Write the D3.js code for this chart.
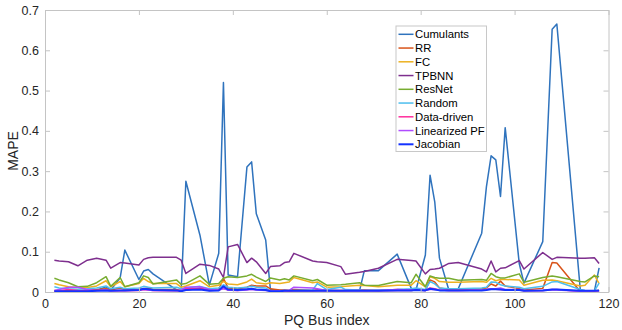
<!DOCTYPE html>
<html>
<head>
<meta charset="utf-8">
<script src="https://cdn.jsdelivr.net/npm/d3@7"></script>
<style>
  html, body { margin: 0; padding: 0; background: #fff; }
  svg { display: block; font-family: "Liberation Sans", Arial, Helvetica, sans-serif; }
</style>
</head>
<body>
<svg id="chart" width="622" height="330"></svg>
<script>
// PQ bus indices (x positions of every series)
const buses = [2,3,5,7,9,11,13,14,16,17,20,21,22,23,28,29,30,33,35,37,38,39,41,43,44,45,47,48,50,51,52,53,57,58,60,63,64,67,68,71,75,78,79,81,82,83,84,86,88,93,94,95,96,97,98,101,102,106,108,109,114,115,117,118];

const seriesNames = ["Cumulants","RR","FC","TPBNN","ResNet","Random","Data-driven","Linearized PF","Jacobian"];

const cumulants = [0.002,0.002,0.003,0.002,0.002,0.004,0.013,0.005,0.035,0.104,0.031,0.052,0.056,0.045,0.005,0.003,0.275,0.141,0.017,0.096,0.52,0.042,0.038,0.31,0.323,0.194,0.129,0.006,0.004,0.004,0.003,0.004,0.003,0.004,0.004,0.003,0.004,0.004,0.053,0.053,0.094,0.009,0.005,0.092,0.29,0.224,0.084,0.005,0.008,0.146,0.261,0.338,0.328,0.237,0.408,0.07,0.022,0.125,0.652,0.665,0.005,0.003,0.002,0.06];
const rr = [0.004,0.004,0.003,0.004,0.005,0.006,0.008,0.005,0.01,0.006,0.006,0.008,0.01,0.006,0.006,0.004,0.005,0.01,0.005,0.007,0.034,0.01,0.008,0.012,0.017,0.015,0.015,0.008,0.005,0.005,0.004,0.006,0.004,0.005,0.004,0.004,0.004,0.005,0.005,0.004,0.006,0.005,0.008,0.004,0.03,0.025,0.01,0.006,0.006,0.008,0.01,0.02,0.015,0.027,0.015,0.008,0.005,0.009,0.073,0.072,0.001,0.001,0.003,0.004];
const fc = [0.021,0.018,0.013,0.011,0.011,0.015,0.028,0.013,0.026,0.013,0.021,0.034,0.026,0.021,0.021,0.012,0.015,0.028,0.013,0.017,0.026,0.02,0.018,0.025,0.032,0.023,0.02,0.023,0.021,0.023,0.025,0.036,0.023,0.025,0.012,0.013,0.014,0.017,0.016,0.013,0.017,0.017,0.028,0.013,0.038,0.034,0.026,0.024,0.024,0.026,0.024,0.034,0.028,0.031,0.031,0.03,0.017,0.029,0.03,0.028,0.015,0.017,0.042,0.021];
const tpbnn = [0.079,0.077,0.075,0.065,0.079,0.084,0.079,0.059,0.073,0.072,0.067,0.081,0.085,0.086,0.086,0.079,0.046,0.069,0.066,0.057,0.036,0.112,0.118,0.073,0.084,0.075,0.046,0.063,0.065,0.073,0.075,0.096,0.077,0.075,0.073,0.063,0.044,0.049,0.051,0.059,0.081,0.078,0.077,0.045,0.056,0.057,0.059,0.071,0.073,0.057,0.05,0.077,0.05,0.059,0.06,0.078,0.057,0.098,0.081,0.086,0.084,0.084,0.085,0.071];
const resnet = [0.034,0.03,0.023,0.013,0.014,0.023,0.038,0.014,0.036,0.013,0.023,0.04,0.036,0.02,0.03,0.019,0.021,0.04,0.019,0.021,0.034,0.038,0.036,0.04,0.044,0.037,0.026,0.035,0.03,0.033,0.03,0.04,0.028,0.031,0.017,0.018,0.019,0.023,0.017,0.016,0.026,0.023,0.044,0.013,0.04,0.036,0.034,0.034,0.029,0.031,0.029,0.046,0.038,0.035,0.035,0.045,0.024,0.036,0.04,0.038,0.026,0.025,0.04,0.038];
const random = [0.013,0.01,0.008,0.007,0.008,0.01,0.015,0.008,0.012,0.008,0.01,0.014,0.012,0.01,0.012,0.008,0.01,0.014,0.008,0.01,0.018,0.012,0.01,0.012,0.014,0.012,0.01,0.003,0.003,0.004,0.003,0.004,0.005,0.021,0.006,0.012,0.006,0.005,0.004,0.005,0.006,0.008,0.01,0.006,0.026,0.02,0.01,0.008,0.008,0.01,0.012,0.025,0.024,0.018,0.015,0.012,0.008,0.014,0.025,0.026,0.006,0.004,0.003,0.022];
const dataDriven = [0.002,0.003,0.006,0.004,0.003,0.004,0.005,0.003,0.004,0.003,0.004,0.006,0.005,0.004,0.003,0.002,0.008,0.008,0.004,0.005,0.01,0.005,0.004,0.006,0.008,0.006,0.005,0.003,0.002,0.003,0.002,0.003,0.003,0.004,0.003,0.003,0.003,0.003,0.003,0.003,0.004,0.004,0.005,0.004,0.01,0.008,0.005,0.004,0.004,0.005,0.006,0.008,0.007,0.006,0.005,0.005,0.003,0.004,0.006,0.006,0.002,0.002,0.002,0.003];
const linearPF = [0.004,0.006,0.012,0.012,0.006,0.004,0.005,0.003,0.004,0.004,0.005,0.006,0.005,0.004,0.004,0.005,0.012,0.013,0.006,0.005,0.008,0.005,0.004,0.005,0.006,0.005,0.004,0.003,0.003,0.004,0.004,0.012,0.01,0.008,0.004,0.004,0.004,0.004,0.004,0.004,0.006,0.005,0.006,0.004,0.006,0.006,0.005,0.004,0.004,0.005,0.006,0.008,0.008,0.01,0.006,0.006,0.004,0.004,0.005,0.005,0.002,0.002,0.003,0.003];
const jacobian = [0.002,0.002,0.002,0.002,0.002,0.003,0.004,0.003,0.004,0.004,0.005,0.008,0.007,0.005,0.004,0.002,0.005,0.006,0.003,0.004,0.014,0.006,0.005,0.007,0.008,0.006,0.005,0.002,0.002,0.003,0.003,0.003,0.003,0.003,0.003,0.003,0.003,0.003,0.003,0.003,0.004,0.004,0.005,0.004,0.008,0.006,0.004,0.004,0.004,0.004,0.005,0.007,0.007,0.006,0.005,0.005,0.003,0.004,0.006,0.006,0.003,0.003,0.003,0.004];

const xTicks = [0,20,40,60,80,100,120];
const yTicks = [0,0.1,0.2,0.3,0.4,0.5,0.6,0.7];
const yTickLabels = ["0","0.1","0.2","0.3","0.4","0.5","0.6","0.7"];

const seriesValues = [cumulants, rr, fc, tpbnn, resnet, random, dataDriven, linearPF, jacobian];
const colors = ["#2f73bd","#d95319","#edb120","#7e2f8e","#77ac30","#4dbeee","#ff2d9c","#b04cff","#1432ff"];
const widths = [1.5,1.5,1.5,1.5,1.5,1.5,1.5,1.5,2];

const svg = d3.select("#chart");
const plotLeft = 45, plotRight = 608.5, plotTop = 10, plotBottom = 292;
const axisColor = "#c4c4c4", textColor = "#262626";

const x = d3.scaleLinear().domain([0,120]).range([plotLeft,plotRight]);
const y = d3.scaleLinear().domain([0,0.7]).range([plotBottom,plotTop]);

svg.append("rect").attr("width",622).attr("height",330).attr("fill","#fff");

// series lines
const line = d3.line().x(d => x(d[0])).y(d => y(d[1]));
const plot = svg.append("g");
seriesValues.forEach((vals, i) => {
  plot.append("path")
    .datum(buses.map((b, k) => [b, vals[k]]))
    .attr("fill","none")
    .attr("stroke",colors[i])
    .attr("stroke-width",widths[i])
    .attr("stroke-linejoin","round")
    .attr("d",line);
});

// axes: ticks pointing inward on all four sides
function styleAxis(g) {
  g.selectAll(".domain").attr("stroke",axisColor);
  g.selectAll(".tick line").attr("stroke",axisColor);
  g.selectAll(".tick text").attr("fill",textColor).attr("font-size",12.5)
    .attr("font-family","'Liberation Sans', Arial, Helvetica, sans-serif");
}
svg.append("g").attr("transform",`translate(0,${plotBottom})`)
  .call(d3.axisBottom(x).tickValues(xTicks).tickSizeInner(-5).tickSizeOuter(0).tickPadding(7))
  .call(styleAxis);
svg.append("g").attr("transform",`translate(0,${plotTop})`)
  .call(d3.axisTop(x).tickValues(xTicks).tickSizeInner(-5).tickSizeOuter(0).tickFormat(""))
  .call(styleAxis);
svg.append("g").attr("transform",`translate(${plotLeft},0)`)
  .call(d3.axisLeft(y).tickValues(yTicks).tickFormat((d,i) => yTickLabels[i]).tickSizeInner(-5).tickSizeOuter(0).tickPadding(6))
  .call(styleAxis);
svg.append("g").attr("transform",`translate(${plotRight},0)`)
  .call(d3.axisRight(y).tickValues(yTicks).tickSizeInner(-5).tickSizeOuter(0).tickFormat(""))
  .call(styleAxis);

// axis titles
svg.append("text").attr("x",(plotLeft+plotRight)/2).attr("y",325)
  .attr("text-anchor","middle").attr("font-size",14).attr("fill",textColor)
  .text("PQ Bus index");
svg.append("text").attr("transform",`translate(18,${(plotTop+plotBottom)/2}) rotate(-90)`)
  .attr("text-anchor","middle").attr("font-size",14).attr("fill",textColor)
  .text("MAPE");

// legend
const lg = svg.append("g").attr("transform","translate(396,26)");
lg.append("rect").attr("width",90.5).attr("height",125.5)
  .attr("fill","#fff").attr("stroke","#c8c8c8").attr("stroke-width",1);
seriesNames.forEach((name, i) => {
  const yy = 8.3 + i*13.75;
  lg.append("line").attr("x1",2.5).attr("x2",17.5).attr("y1",yy).attr("y2",yy)
    .attr("stroke",colors[i]).attr("stroke-width",widths[i]);
  lg.append("text").attr("x",19).attr("y",yy).attr("dy","0.35em")
    .attr("font-size",11.3).attr("fill","#000").text(name);
});
</script>
</body>
</html>
